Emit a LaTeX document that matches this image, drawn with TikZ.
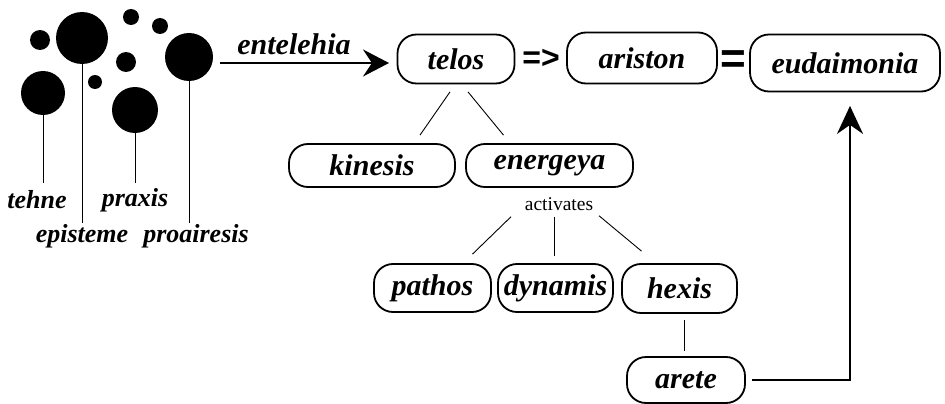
\documentclass[tikz,border=0pt]{standalone}
\usepackage{fontspec}
\setmainfont{Liberation Serif}
\newfontfamily\symfont{Liberation Sans}
\usetikzlibrary{arrows.meta,calc}
\begin{document}
\begin{tikzpicture}[x=1pt,y=-1pt,
  term/.style={draw,line width=1.8pt,rounded corners=19pt,inner sep=0pt,
    font=\fontsize{30}{34}\selectfont\bfseries\itshape},
  lbl/.style={inner sep=0pt,font=\fontsize{26}{30}\selectfont\bfseries\itshape},
  dot/.style={fill=black,draw=none,circle,inner sep=0pt},
  stem/.style={line width=1pt},
  thin/.style={line width=0.9pt},
  bigarrow/.style={line width=2pt,-{Stealth[length=26pt,width=27pt,inset=9pt]}},
  uparrow/.style={line width=2pt,-{Stealth[length=28pt,width=26pt,inset=9pt]}}]
\useasboundingbox (0,0) rectangle (945,404);
% circles
\node[dot,minimum size=20pt] (c1) at (40,40) {};
\node[dot,minimum size=52pt] (cepi) at (82,38) {};
\node[dot,minimum size=16pt] (c2) at (131,17) {};
\node[dot,minimum size=16pt] (c3) at (160,26) {};
\node[dot,minimum size=20pt] (c4) at (126,62) {};
\node[dot,minimum size=14pt] (c5) at (95,82) {};
\node[dot,minimum size=44pt] (cteh) at (43,93) {};
\node[dot,minimum size=46pt] (cpra) at (135,110) {};
\node[dot,minimum size=48pt] (cpro) at (189,57) {};
% stem ends
\coordinate (eteh) at (43,183);
\coordinate (eepi) at (82,223);
\coordinate (epra) at (135,183);
\coordinate (epro) at (189,223);
\draw[stem] (cteh.south) -- (eteh);
\draw[stem] (cepi.south) -- (eepi);
\draw[stem] (cpra.south) -- (epra);
\draw[stem] (cpro.south) -- (epro);
% labels
\node[lbl] (tehne) at (37,200) {tehne};
\node[lbl] (episteme) at (82,236) {episteme};
\node[lbl] (praxis) at (135,200) {praxis};
\node[lbl] (proairesis) at (196,236) {proairesis};
% top row
\node[term,minimum width=117pt,minimum height=49pt] (telos) at (456,59) {telos};
\node[term,minimum width=150pt,minimum height=51pt] (ariston) at (642,58) {ariston};
\node[term,minimum width=190pt,minimum height=57pt] (eud) at (845,63) {eudaimonia};
\node[inner sep=0pt,font=\fontsize{32}{34}\selectfont\symfont\bfseries] (impl) at (541,59) {=>};
\node[inner sep=0pt,font=\fontsize{44}{44}\selectfont\symfont\bfseries] (eq) at (733,62) {=};
% entelehia arrow
\coordinate (ent0) at (220,63);
\coordinate (ent1) at (389,63);
\draw[bigarrow] (ent0) -- (ent1);
\node[inner sep=0pt,font=\fontsize{30}{34}\selectfont\bfseries\itshape] (entl) at (294,44) {entelehia};
% second row
\node[term,minimum width=166pt,minimum height=43pt] (kinesis) at (372,165.5) {kinesis};
\node[term,minimum width=167pt,minimum height=43pt] (energeya) at (549.5,165.5) {energeya};
\draw[thin] ([xshift=-6pt,yshift=-7.5pt]telos.south) -- ([xshift=48pt,yshift=8pt]kinesis.north);
\draw[thin] ([xshift=12pt,yshift=-7.5pt]telos.south) -- ([xshift=-46pt,yshift=8pt]energeya.north);
\node[inner sep=0pt,font=\fontsize{19.5}{22}\selectfont] (act) at (559,204) {activates};
% third row
\node[term,minimum width=117pt,minimum height=48pt] (pathos) at (432.5,288) {pathos};
\node[term,minimum width=115pt,minimum height=48pt] (dynamis) at (555.5,288) {dynamis};
\node[term,minimum width=115pt,minimum height=49pt] (hexis) at (679.5,288.5) {hexis};
\draw[thin] ([xshift=-48pt,yshift=-6pt]act.south) -- ([xshift=40pt,yshift=9pt]pathos.north);
\draw[thin] ([xshift=-5pt,yshift=-6pt]act.south) -- ([xshift=-1.5pt,yshift=7pt]dynamis.north);
\draw[thin] ([xshift=40pt,yshift=-5pt]act.south) -- ([xshift=-38pt,yshift=12pt]hexis.north);
% arete
\node[term,minimum width=118pt,minimum height=46pt] (arete) at (686,380) {arete};
\draw[thin] ([xshift=4.5pt,yshift=-6pt]hexis.south) -- ([xshift=-2pt,yshift=5pt]arete.north);
\coordinate (corner) at (850,380);
\draw[uparrow] ([xshift=6pt]arete.east) -- (corner) -- ([xshift=5pt,yshift=-13.5pt]eud.south);
\end{tikzpicture}
\end{document}
